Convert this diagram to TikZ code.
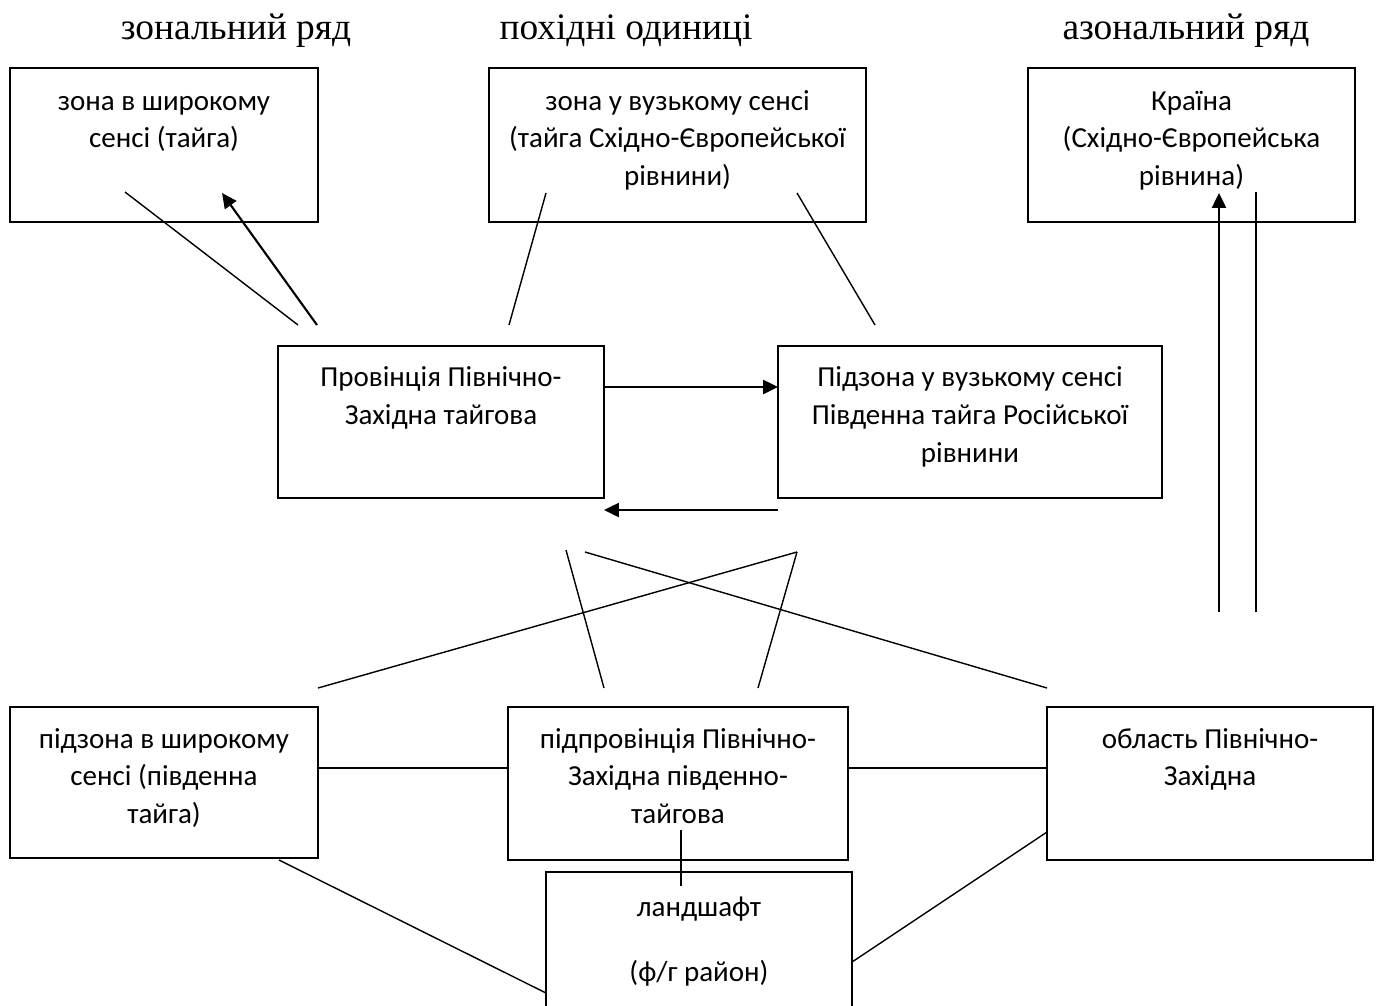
\documentclass[tikz,border=0pt]{standalone}
\usepackage{fontspec}
\setmainfont{Carlito}
\newfontfamily\headfont{Liberation Serif}
\usetikzlibrary{arrows.meta}
\tikzset{
  box/.style={draw, line width=0.9pt, inner sep=0pt},
  txt/.style={align=center, inner sep=0pt, anchor=north, font=\fontsize{16.5}{21.5}\selectfont},
  head/.style={inner sep=0pt, font=\headfont\fontsize{21.3}{24}\selectfont},
  ln/.style={line width=0.8pt},
  arr/.style={line width=1.2pt, -{Triangle[length=8.5pt,width=8pt]}}
}
\begin{document}
\begin{tikzpicture}[x=0.02cm,y=-0.02cm]
\useasboundingbox (0,0) rectangle (1377,1005);
\clip (0,0) rectangle (1377,1005);
% headers
\node[head] (h1) at (236,31) {зональний ряд};
\node[head] (h2) at (626,31) {похідні одиниці};
\node[head] (h3) at (1186,31) {азональний ряд};
% boxes
\node[box, minimum width=308*0.02cm, minimum height=154*0.02cm] (A) at (164,145) {};
\node[box, minimum width=377*0.02cm, minimum height=154*0.02cm] (B) at (677.5,145) {};
\node[box, minimum width=327*0.02cm, minimum height=154*0.02cm] (C) at (1191.5,145) {};
\node[box, minimum width=326*0.02cm, minimum height=152*0.02cm] (D) at (441,422) {};
\node[box, minimum width=384*0.02cm, minimum height=152*0.02cm] (E) at (970,422) {};
\node[box, minimum width=308*0.02cm, minimum height=151*0.02cm] (F) at (164,782.5) {};
\node[box, minimum width=340*0.02cm, minimum height=153*0.02cm] (G) at (678,783.5) {};
\node[box, minimum width=326*0.02cm, minimum height=153*0.02cm] (H) at (1210,783.5) {};
\node[box, minimum width=306*0.02cm, minimum height=160*0.02cm] (I) at (699,952) {};
% texts
\node[txt] (At) at (164,83.3) {\strut зона в широкому\\сенсі (тайга)};
\node[txt] (Bt) at (677.5,83.3) {\strut зона у вузькому сенсі\\(тайга Східно-Європейської\\рівнини)};
\node[txt] (Ct) at (1191.5,83.3) {\strut Країна\\(Східно-Європейська\\рівнина)};
\node[txt] (Dt) at (441,359.8) {\strut Провінція Північно-\\Західна тайгова};
\node[txt] (Et) at (970,359.8) {\strut Підзона у вузькому сенсі\\Південна тайга Російської\\рівнини};
\node[txt] (Ft) at (164,721.3) {\strut підзона в широкому\\сенсі (південна\\тайга)};
\node[txt] (Gt) at (678,721.3) {\strut підпровінція Північно-\\Західна південно-\\тайгова};
\node[txt] (Ht) at (1210,721.3) {\strut область Північно-\\Західна};
\node[txt] (It) at (699,889.3) {\strut ландшафт\\[15.5pt](ф/г район)};
% free ends
\coordinate (a1) at (125,192); \coordinate (a2) at (298,325);
\coordinate (a3) at (317,325); \coordinate (a4) at (222,193);
\coordinate (b1) at (546,193); \coordinate (b2) at (509,325);
\coordinate (b3) at (797,193); \coordinate (b4) at (875,325);
\coordinate (c1) at (1219,612); \coordinate (c2) at (1219,193);
\coordinate (c3) at (1256,612); \coordinate (c4) at (1256,192);
\coordinate (d1) at (604,387); \coordinate (d2) at (778,387);
\coordinate (e1) at (778,510); \coordinate (e2) at (604,510);
\coordinate (x1) at (566,550); \coordinate (x2) at (604,688);
\coordinate (x3) at (797,552); \coordinate (x4) at (758,688);
\coordinate (x5) at (318,688);
\coordinate (x6) at (585,552); \coordinate (x7) at (1047,688);
\coordinate (g1) at (681,830); \coordinate (g2) at (681,886);
\coordinate (f1) at (279,860); \coordinate (f2) at (546,993);
\coordinate (k1) at (1047,832); \coordinate (k2) at (852,962);
% connectors
\draw[ln] (a1) -- (a2);
\draw[arr] (a3) -- (a4);
\draw[ln] (b1) -- (b2);
\draw[ln] (b3) -- (b4);
\draw[arr] (c1) -- (c2);
\draw[ln] (c3) -- (c4);
\draw[arr] (d1) -- (d2);
\draw[arr] (e1) -- (e2);
\draw[ln] (x1) -- (x2);
\draw[ln] (x3) -- (x4);
\draw[ln] (x5) -- (x3);
\draw[ln] (x6) -- (x7);
\draw[ln] (F.east |- 0,768) -- (G.west |- 0,768);
\draw[ln] (G.east |- 0,768) -- (H.west |- 0,768);
\draw[ln] (g1) -- (g2);
\draw[ln] (f1) -- (f2);
\draw[ln] (k1) -- (k2);
\end{tikzpicture}
\end{document}
